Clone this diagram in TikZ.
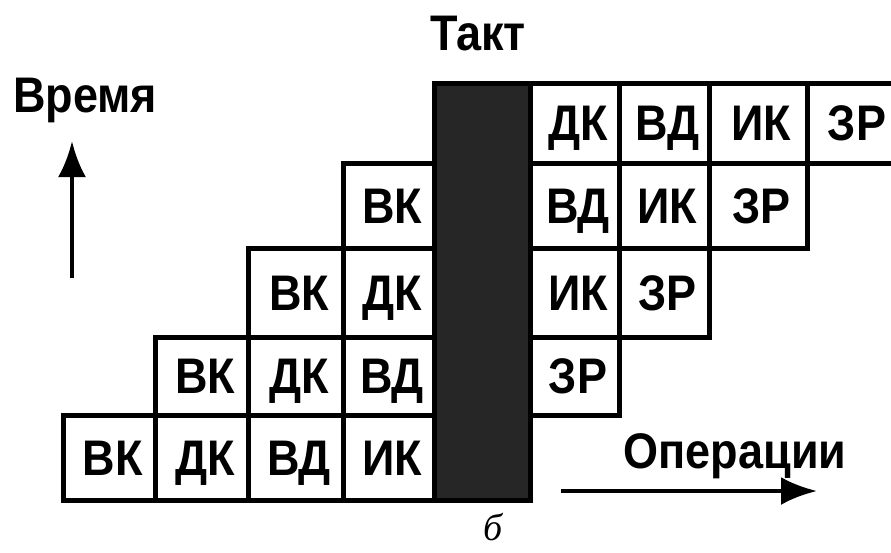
\documentclass[tikz,border=0pt]{standalone}
\usepackage{fontspec}
\setmainfont{Liberation Sans}
\newfontfamily\cellfont[FakeStretch=0.9]{Liberation Sans Bold}
\newfontfamily\letterfont{Liberation Serif Italic}
\usetikzlibrary{arrows.meta}
\newcommand\mycell[6]{%
  \node[cellbox, minimum width={#4pt-#2pt}, minimum height={#5pt-#3pt}]
    (#1) at ({(#2+#4)/2},{(#3+#5)/2}) {\hspace*{7pt}#6};}
\begin{document}
\begin{tikzpicture}[x=1pt,y=-1pt,
  cellbox/.style={draw=black, line width=5pt, inner sep=0pt, fill=white,
    text height=35pt, text depth=0pt, font=\cellfont\fontsize{50}{54}\selectfont},
  lbl/.style={inner sep=0pt, anchor=base, font=\cellfont\fontsize{50}{54}\selectfont},
  axisarrow/.style={line width=4.5pt, -{Latex[length=36pt,width=28pt]}}]
\useasboundingbox (0,0) rectangle (891,552);
\fill[white] (0,0) rectangle (891,552);
% dark column (clock)
\node[draw=black, line width=5pt, fill=black!85, minimum width=96pt, minimum height=417pt] (dark) at (482,291.5) {};
% row 1
\mycell{a2}{530}{83}{619}{163}{ДК}
\mycell{a3}{619}{83}{709}{163}{ВД}
\mycell{a4}{709}{83}{807}{163}{ИК}
\mycell{a5}{807}{83}{900}{163}{ЗР}
% row 2
\mycell{b1}{343}{163}{434}{248}{ВК}
\mycell{b3}{530}{163}{619}{248}{ВД}
\mycell{b4}{619}{163}{709}{248}{ИК}
\mycell{b5}{709}{163}{807}{248}{ЗР}
% row 3
\mycell{c1}{248}{248}{343}{337}{ВК}
\mycell{c2}{343}{248}{434}{337}{ДК}
\mycell{c4}{530}{248}{619}{337}{ИК}
\mycell{c5}{619}{248}{709}{337}{ЗР}
% row 4
\mycell{d1}{155}{337}{248}{415}{ВК}
\mycell{d2}{248}{337}{343}{415}{ДК}
\mycell{d3}{343}{337}{434}{415}{ВД}
\mycell{d5}{530}{337}{619}{415}{ЗР}
% row 5
\mycell{e1}{63}{415}{155}{500}{ВК}
\mycell{e2}{155}{415}{248}{500}{ДК}
\mycell{e3}{248}{415}{343}{500}{ВД}
\mycell{e4}{343}{415}{434}{500}{ИК}
% labels
\node[lbl] (takt) at (478,50) {Такт};
\node[lbl] (vremya) at (85,112) {Время};
\node[lbl] (oper) at (735,468) {Операции};
\node[inner sep=0pt, anchor=base, font=\letterfont\fontsize{38}{42}\selectfont] (b) at (493,540) {б};
% axis arrows
\coordinate (tUp0) at (72,278);
\coordinate (tUp1) at (72,141);
\coordinate (oR0) at (561,491);
\coordinate (oR1) at (817,491);
\draw[axisarrow] (tUp0) -- (tUp1);
\draw[axisarrow] (oR0) -- (oR1);
\end{tikzpicture}
\end{document}
